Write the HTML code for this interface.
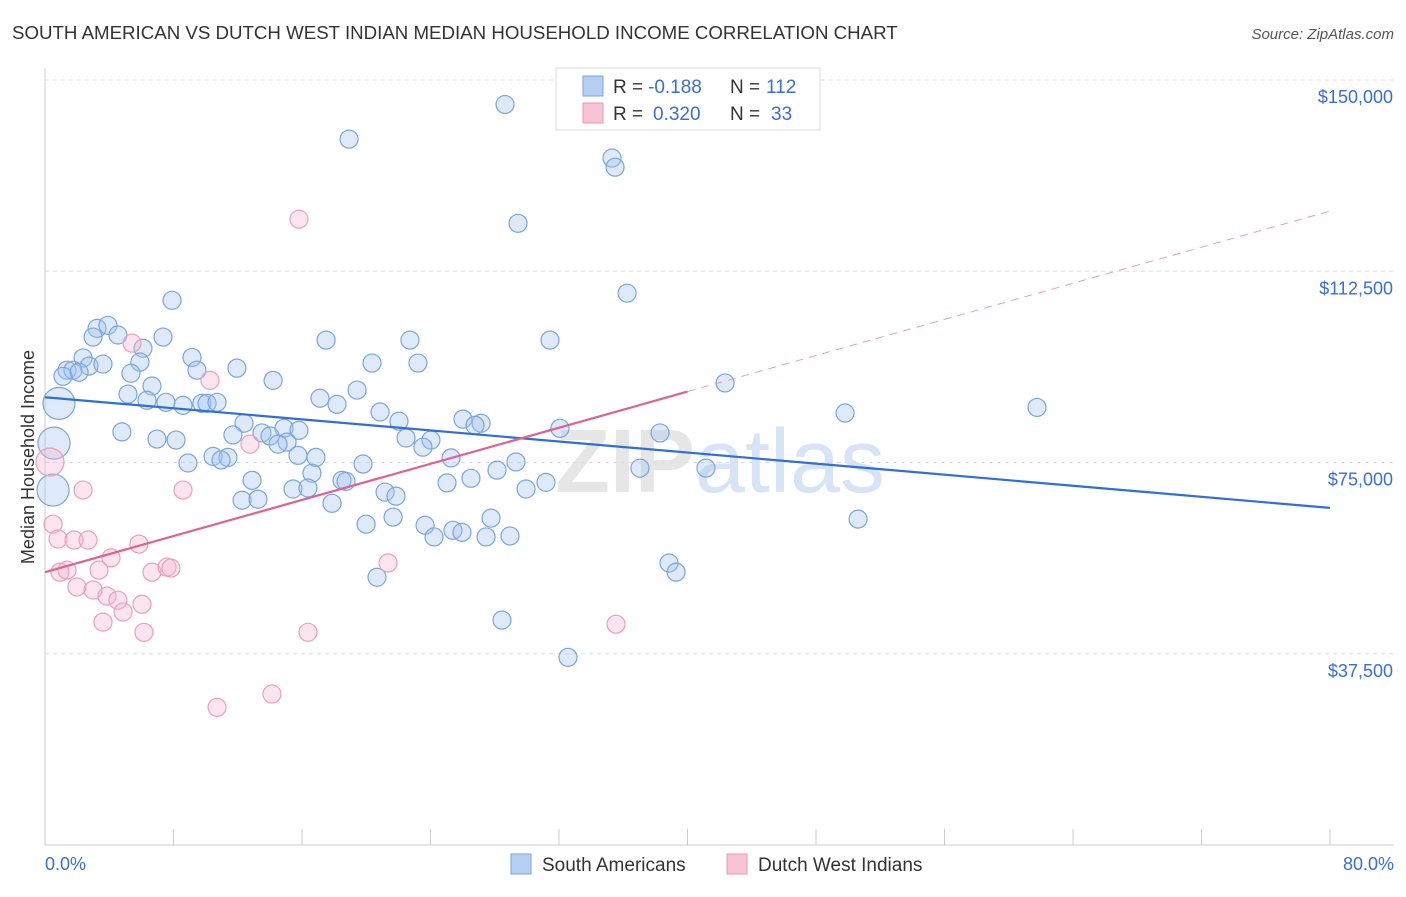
<!DOCTYPE html>
<html><head><meta charset="utf-8"><style>
body{margin:0;background:#fff;font-family:"Liberation Sans",sans-serif;}
svg text{font-family:"Liberation Sans",sans-serif;}
</style></head><body>
<svg id="chart" width="1406" height="892" viewBox="0 0 1406 892" xmlns="http://www.w3.org/2000/svg">
<text x="12" y="39" font-size="18.7" fill="#333">SOUTH AMERICAN VS DUTCH WEST INDIAN MEDIAN HOUSEHOLD INCOME CORRELATION CHART</text>
<text x="1394" y="39" font-size="15" fill="#555" text-anchor="end" font-style="italic">Source: ZipAtlas.com</text>
<text x="720" y="492" font-size="90" fill="#e6e6e6" text-anchor="middle" font-family="Liberation Serif" font-weight="bold">ZIP<tspan fill="#d6e4f5" font-family="Liberation Sans" font-weight="normal">atlas</tspan></text>
<g id="grid"></g><g id="axes"></g><g id="marks"></g><g id="lines"></g>
<text transform="translate(34,457) rotate(-90)" font-size="18" fill="#333" text-anchor="middle">Median Household Income</text>
<text x="45" y="870" font-size="18" fill="#3a6fd0">0.0%</text>
<text x="1394" y="870" font-size="18" fill="#3a6fd0" text-anchor="end">80.0%</text>
<g>
<rect x="556" y="68" width="264" height="62" fill="#fff" stroke="#ddd"/>
<rect x="583" y="76" width="20" height="20" fill="#b4cff2" stroke="#7aa5e0"/>
<rect x="583" y="103" width="20" height="20" fill="#f8c3d4" stroke="#e99ab3"/>
<text x="613" y="93" font-size="19" fill="#333">R =</text>
<text x="648" y="93" font-size="19" fill="#3a6fd0">-0.188</text>
<text x="730" y="93" font-size="19" fill="#333">N =</text>
<text x="766" y="93" font-size="19" fill="#3a6fd0">112</text>
<text x="613" y="120" font-size="19" fill="#333">R =</text>
<text x="653" y="120" font-size="19" fill="#3a6fd0">0.320</text>
<text x="730" y="120" font-size="19" fill="#333">N =</text>
<text x="771" y="120" font-size="19" fill="#3a6fd0">33</text>
</g>
<g>
<rect x="511" y="854" width="20" height="20" fill="#b4cff2" stroke="#7aa5e0"/>
<text x="542" y="871" font-size="19" fill="#333">South Americans</text>
<rect x="727" y="854" width="20" height="20" fill="#f8c3d4" stroke="#e99ab3"/>
<text x="758" y="871" font-size="19" fill="#333">Dutch West Indians</text>
</g>
</svg>
<script>
const yTicks=[37500,75000,112500,150000];
const yTickLabels=["$37,500","$75,000","$112,500","$150,000"];
const xTicks=[0,8,16,24,32,40,48,56,64,72,80];
const blueX=[28.64,18.93,35.30,35.49,29.45,36.24,7.91,3.24,3.92,4.54,2.99,7.35,17.50,22.72,31.44,6.10,9.15,2.37,20.36,23.22,5.91,11.95,9.46,2.74,3.61,1.37,1.74,2.12,1.12,5.35,14.20,42.34,6.66,5.17,19.43,17.12,6.35,7.53,8.59,9.77,10.09,10.71,18.18,0.87,20.86,49.81,61.76,22.04,26.02,27.15,26.77,12.39,14.88,15.81,13.51,14.01,4.79,32.06,38.29,11.70,22.48,24.03,6.97,8.16,15.07,14.51,23.53,0.56,10.46,11.39,15.75,16.87,10.96,25.28,8.90,29.32,19.80,28.14,37.04,41.15,16.62,12.89,18.49,18.74,26.52,25.03,31.19,21.17,21.85,15.44,16.37,29.95,12.27,13.26,17.87,0.50,21.67,27.77,19.99,23.66,25.40,25.96,50.62,24.22,27.46,28.95,38.85,39.29,20.67,28.45,32.56];
const blueY=[145.2,138.4,134.7,132.9,121.9,108.2,106.8,101.3,101.9,100.0,99.6,99.6,99.0,99.0,99.0,97.4,95.6,95.5,94.5,94.5,94.7,93.5,93.1,93.9,94.3,93.1,93.1,92.7,91.9,92.5,91.1,90.6,90.0,88.4,89.2,87.6,87.2,86.8,86.2,86.6,86.6,86.8,86.4,86.6,84.9,84.7,85.8,83.1,83.5,82.7,82.3,82.7,81.7,81.3,80.8,80.2,81.0,81.7,80.8,80.4,79.8,79.4,79.6,79.4,79.0,78.6,78.0,78.8,76.2,76.0,76.4,76.0,75.5,75.9,74.9,75.1,74.7,73.5,73.9,73.9,72.9,71.5,71.5,71.3,71.9,71.0,71.1,69.2,68.4,69.8,70.0,69.8,67.6,67.8,67.0,69.6,64.3,64.1,62.9,62.7,61.7,61.3,63.9,60.4,60.4,60.6,55.3,53.5,52.5,44.1,36.8];
const blueLarge=[43,67,95];
const pinkX=[34.55,15.81,5.42,10.27,12.76,0.31,2.37,8.59,0.50,0.81,1.81,2.68,5.85,4.11,21.36,0.93,1.37,3.36,6.66,7.60,7.84,1.99,2.99,3.86,4.54,6.04,4.86,3.61,6.16,16.37,35.55,14.13,10.71];
const pinkY=[142.9,122.7,98.4,91.1,78.6,75.1,69.6,69.6,62.9,60.0,59.8,59.8,59.0,56.3,55.3,53.5,53.9,53.9,53.5,54.5,54.3,50.6,50.0,48.8,48.0,47.2,45.7,43.7,41.7,41.7,43.3,29.6,27.0];
const pinkLarge=[5];
const blueLine=[87.8,66.1];
const pinkLine=[53.5,124.3];
const pinkSolidEnd=40;

const NS="http://www.w3.org/2000/svg";
const X0=45,X1=1330,Y0=845,Y150=80;
const sx=v=>X0+(v/80)*(X1-X0);
const sy=v=>Y0-(v/150)*(Y0-Y150);
function mk(tag,attrs,parent){const e=document.createElementNS(NS,tag);for(const k in attrs)e.setAttribute(k,attrs[k]);parent.appendChild(e);return e;}
const grid=document.getElementById('grid'),axes=document.getElementById('axes'),marks=document.getElementById('marks'),lines=document.getElementById('lines');
yTicks.forEach((t,i)=>{
  const y=sy(t/1000);
  const l=mk('line',{x1:X0,x2:1394,y1:y,y2:y,stroke:'#ddd','stroke-dasharray':'4,4'},grid);
  
  
  const tx=mk('text',{x:1393,y:y+23,'font-size':18,fill:'#3a6fd0','text-anchor':'end'},grid);
  tx.textContent=yTickLabels[i];
  
  
});
const ya=mk('line',{x1:X0,x2:X0,y1:68,y2:Y0,stroke:'#ccc'},axes);


const xa=mk('line',{x1:X0,x2:1394,y1:Y0,y2:Y0,stroke:'#ccc'},axes);


xTicks.forEach(t=>{
  const l=mk('line',{x1:sx(t),x2:sx(t),y1:Y0-16,y2:Y0,stroke:'#ccc'},axes);
  
  
});
blueX.forEach((v,i)=>{
  const r=blueLarge.includes(i)?16:9;
  const c=mk('circle',{cx:sx(v),cy:sy(blueY[i]),r:r,fill:'rgba(160,195,240,0.35)',stroke:'#7aa5e0','stroke-width':1.2},marks);
  
  
});
pinkX.forEach((v,i)=>{
  const r=pinkLarge.includes(i)?14:9;
  const c=mk('circle',{cx:sx(v),cy:sy(pinkY[i]),r:r,fill:'rgba(245,180,205,0.35)',stroke:'#eba0ba','stroke-width':1.2},marks);
  
  
});
const bl=mk('line',{x1:sx(0),y1:sy(blueLine[0]),x2:sx(80),y2:sy(blueLine[1]),stroke:'#2f6fd6','stroke-width':2.2},lines);


const pAt=x=>pinkLine[0]+(pinkLine[1]-pinkLine[0])*x/80;
const pl=mk('line',{x1:sx(0),y1:sy(pAt(0)),x2:sx(pinkSolidEnd),y2:sy(pAt(pinkSolidEnd)),stroke:'#e0628f','stroke-width':2.2},lines);


const pd=mk('line',{x1:sx(pinkSolidEnd),y1:sy(pAt(pinkSolidEnd)),x2:sx(80),y2:sy(pAt(80)),stroke:'#e8a0b8','stroke-width':1,'stroke-dasharray':'8,6'},lines);


</script>
</body></html>
